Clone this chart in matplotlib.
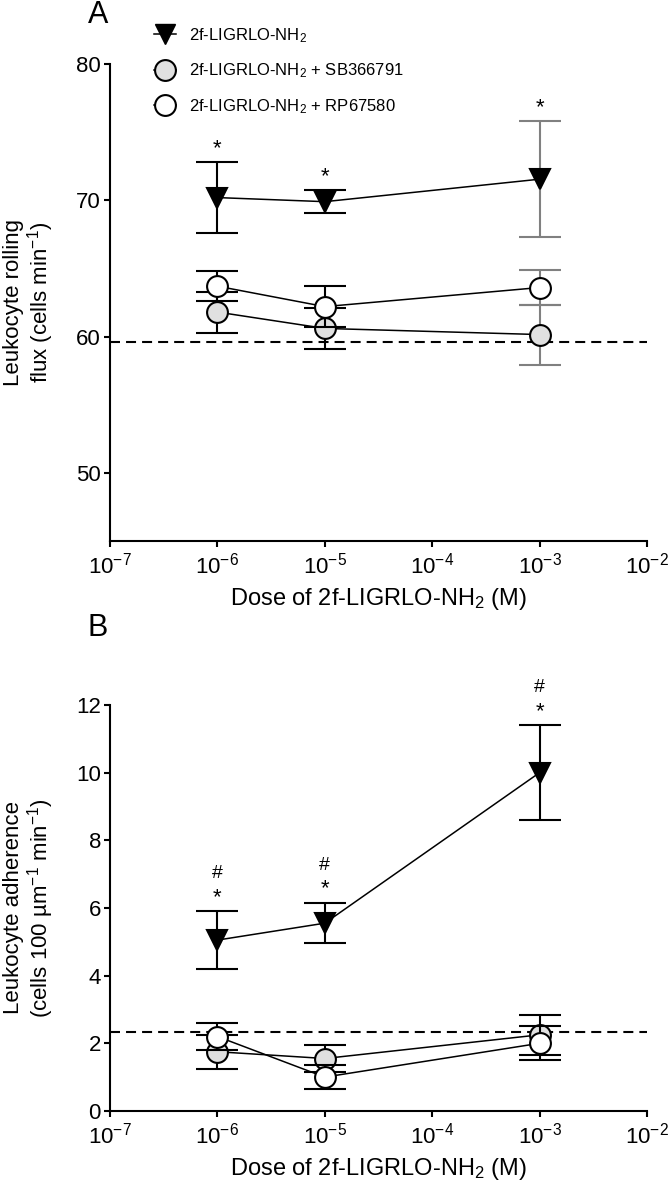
import matplotlib
matplotlib.use("Agg")
import matplotlib.pyplot as plt
from matplotlib.lines import Line2D
from matplotlib.ticker import NullLocator
from matplotlib import font_manager

plt.rcParams['font.family'] = ['Liberation Sans', 'DejaVu Sans']
plt.rcParams['mathtext.default'] = 'regular'

# doses (M)
dose = [1e-6, 1e-5, 1e-3]

# panel A: rolling flux (cells/min), mean and SEM
roll_agonist = [70.2, 69.9, 71.55]
roll_agonist_sem = [2.6, 0.85, 4.25]
roll_sb = [61.8, 60.6, 60.15]
roll_sb_sem = [1.5, 1.5, 2.2]
roll_rp = [63.7, 62.2, 63.6]
roll_rp_sem = [1.1, 1.5, 1.25]
roll_baseline = 59.6
roll_stars = ['*', '*', '*']

# panel B: adherence (cells/100 um/min)
adh_agonist = [5.05, 5.55, 10.0]
adh_agonist_sem = [0.85, 0.6, 1.4]
adh_sb = [1.75, 1.55, 2.25]
adh_sb_sem = [0.5, 0.4, 0.6]
adh_rp = [2.2, 1.0, 2.0]
adh_rp_sem = [0.4, 0.35, 0.5]
adh_baseline = 2.33
adh_stars = ['*', '*', '*']
adh_hashes = ['#', '#', '#']

labels = ['2f-LIGRLO-NH$_2$', '2f-LIGRLO-NH$_2$ + SB366791', '2f-LIGRLO-NH$_2$ + RP67580']
xticks = [1e-7, 1e-6, 1e-5, 1e-4, 1e-3, 1e-2]

names = {f.name for f in font_manager.fontManager.ttflist}
legend_font = 'Liberation Sans Narrow' if 'Liberation Sans Narrow' in names else 'Liberation Sans'

GREY = '#e0e0e0'


def style_axis(ax, ylim, yticks, ylabel):
    ax.set_xscale('log')
    ax.set_xlim(1e-7, 1e-2)
    ax.set_xticks(xticks)
    ax.xaxis.set_minor_locator(NullLocator())
    ax.set_ylim(*ylim)
    ax.set_yticks(yticks)
    for s in ['top', 'right']:
        ax.spines[s].set_visible(False)
    for s in ['left', 'bottom']:
        ax.spines[s].set_linewidth(1.5)
    ax.tick_params(width=1.5, length=4.5, labelsize=16)
    ax.tick_params(axis='y', pad=2)
    ax.tick_params(axis='x', pad=4)
    ax.set_xlabel('Dose of 2f-LIGRLO-NH$_2$ (M)', fontsize=17, labelpad=5)
    ax.set_ylabel(ylabel, fontsize=16, linespacing=1.05)
    ax.yaxis.set_label_coords(-0.1, 0.5)


def draw_series(ax, means, sems, marker, face, ms, bar_colors, z):
    for d, m, s, c in zip(dose, means, sems, bar_colors):
        ax.errorbar([d], [m], yerr=[s], fmt='none', ecolor=c, elinewidth=1.5,
                    capsize=15, capthick=1.5, zorder=z)
    ax.plot(dose, means, color='black', lw=1.1, marker=marker, ms=ms,
            mfc=face, mec='black', mew=1.5, zorder=z + 0.5)


fig = plt.figure(figsize=(6.7, 11.92), dpi=100)
axA = fig.add_axes([0.1642, 0.5461, 0.8015, 0.4002])
axB = fig.add_axes([0.1642, 0.0680, 0.8015, 0.3406])

# ---- panel A
style_axis(axA, (45, 80), [50, 60, 70, 80], 'Leukocyte rolling\nflux (cells min$^{-1}$)')
axA.axhline(roll_baseline, color='black', lw=1.5, dashes=(4.8, 2.9), zorder=1)
bars_a = ['black', 'black', '#808080']
draw_series(axA, roll_sb, roll_sb_sem, 'o', GREY, 15, bars_a, 2)
draw_series(axA, roll_rp, roll_rp_sem, 'o', 'white', 15, bars_a, 3)
draw_series(axA, roll_agonist, roll_agonist_sem, 'v', 'black', 14, bars_a, 4)
for d, m, s, t in zip(dose, roll_agonist, roll_agonist_sem, roll_stars):
    axA.annotate(t, (d, m + s), xytext=(0, 10), textcoords='offset points',
                 ha='center', va='center', fontsize=16)

# ---- panel B
style_axis(axB, (0, 12), [0, 2, 4, 6, 8, 10, 12],
           'Leukocyte adherence\n(cells 100 µm$^{-1}$ min$^{-1}$)')
axB.axhline(adh_baseline, color='black', lw=1.5, dashes=(4.8, 2.9), zorder=1)
bars_b = ['black', 'black', 'black']
draw_series(axB, adh_sb, adh_sb_sem, 'o', GREY, 15, bars_b, 2)
draw_series(axB, adh_rp, adh_rp_sem, 'o', 'white', 15, bars_b, 3)
draw_series(axB, adh_agonist, adh_agonist_sem, 'v', 'black', 14, bars_b, 4)
for d, m, s, t, h in zip(dose, adh_agonist, adh_agonist_sem, adh_stars, adh_hashes):
    axB.annotate(t, (d, m + s), xytext=(0, 10), textcoords='offset points',
                 ha='center', va='center', fontsize=16)
    axB.annotate(h, (d, m + s), xytext=(0, 27), textcoords='offset points',
                 ha='center', va='center', fontsize=14)

# legend
handles = [
    Line2D([], [], color='black', lw=1.1, marker='v', ms=14, mfc='black', mec='black'),
    Line2D([], [], color='black', lw=1.1, marker='o', ms=15, mfc=GREY, mec='black', mew=1.5),
    Line2D([], [], color='black', lw=1.1, marker='o', ms=15, mfc='white', mec='black', mew=1.5),
]
axA.legend(handles, labels, loc='upper left', bbox_to_anchor=(0.23, 0.978),
           bbox_transform=fig.transFigure, frameon=False, borderpad=0,
           borderaxespad=0, handlelength=1.3, handletextpad=0.8, labelspacing=1.0,
           prop={'family': legend_font, 'size': 12})

fig.text(98 / 670, 1 - 15 / 1192, 'A', fontsize=22, ha='center', va='center')
fig.text(98 / 670, 1 - 628 / 1192, 'B', fontsize=22, ha='center', va='center')

fig.savefig('out.png', dpi=100)
